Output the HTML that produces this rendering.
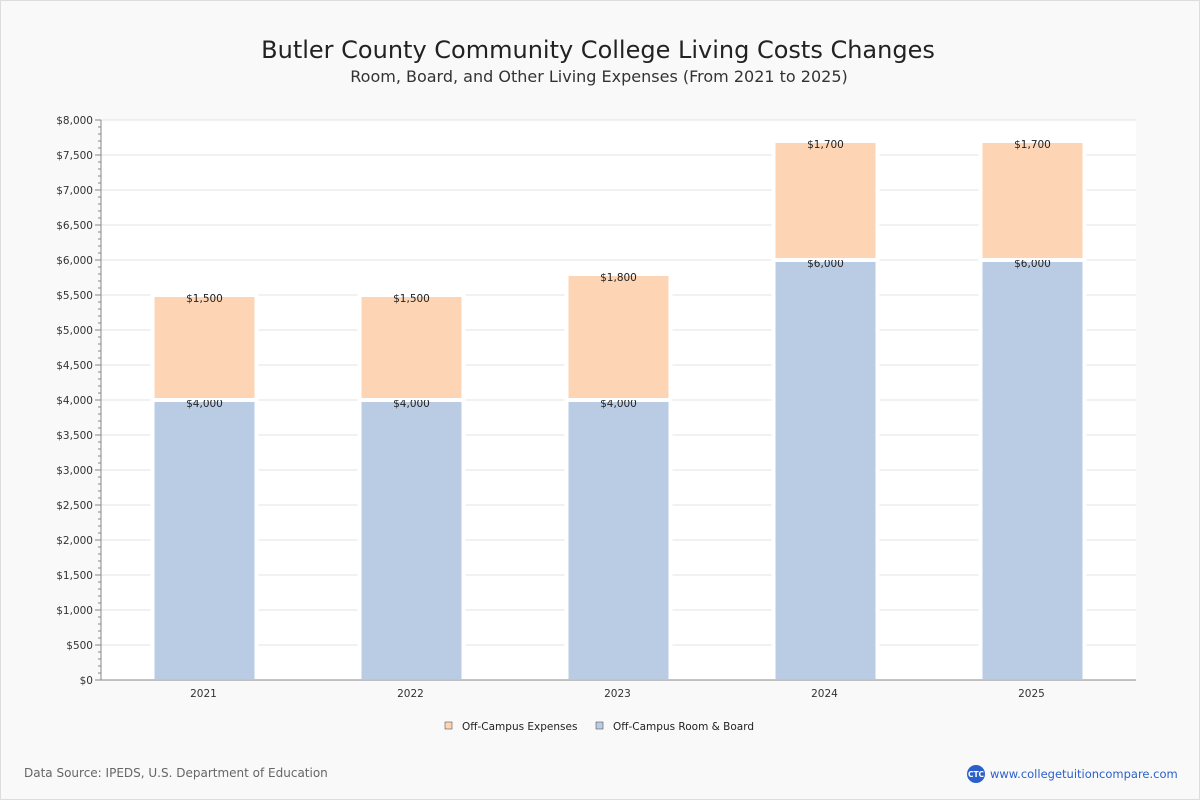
<!DOCTYPE html>
<html><head><meta charset="utf-8">
<style>
body{margin:0;background:#f9f9f9;font-family:"DejaVu Sans","Liberation Sans",sans-serif;}
#wrap{position:relative;width:1200px;height:800px;box-sizing:border-box;border:1px solid #ddd;background:#f9f9f9;overflow:hidden;}
#chart{position:absolute;left:0px;top:-1px;}
</style></head>
<body>
<div id="wrap">
<svg id="chart" width="1200" height="800">
<text x="597" y="58" text-anchor="middle" font-size="24" fill="#222">Butler County Community College Living Costs Changes</text>
<text x="598" y="82" text-anchor="middle" font-size="16" fill="#333">Room, Board, and Other Living Expenses (From 2021 to 2025)</text>
<rect x="100" y="120" width="1035" height="560" fill="#fff"/>
<g id="grid"></g><g id="bars"></g><g id="axes"></g>
<g>
<rect x="444" y="722" width="7" height="7" fill="#fdd5b4" stroke="#555" stroke-width="0.6"/>
<text x="461" y="730" font-size="10.5" fill="#222">Off-Campus Expenses</text>
<rect x="595" y="722" width="7" height="7" fill="#b9cce4" stroke="#555" stroke-width="0.6"/>
<text x="612" y="730" font-size="10.5" fill="#222">Off-Campus Room &amp; Board</text>
</g>
<text x="23" y="777" font-size="12" fill="#666">Data Source: IPEDS, U.S. Department of Education</text>
<circle cx="975" cy="774" r="9" fill="#2a5fcc"/>
<text x="975" y="777" text-anchor="middle" font-size="7.5" fill="#fff" font-weight="bold">CTC</text>
<text x="989" y="778" font-size="11.5" fill="#2a5fcc">www.collegetuitioncompare.com</text>
</svg>
</div>
<script>
const years=["2021","2022","2023","2024","2025"];
const roomBoard=[4000,4000,4000,6000,6000];
const expenses=[1500,1500,1800,1700,1700];
const yTicks=[0,500,1000,1500,2000,2500,3000,3500,4000,4500,5000,5500,6000,6500,7000,7500,8000];
const NS="http://www.w3.org/2000/svg";
const X0=100,X1=1135,Y0=680,Y1=120,MAX=8000;
const y=v=>Y0-(v/MAX)*(Y0-Y1);
const bw=(X1-X0)/years.length;
const xc=i=>X0+bw*(i+0.5);
function mk(t,a,p){const e=document.createElementNS(NS,t);for(const k in a)e.setAttribute(k,a[k]);p.appendChild(e);return e;}
const grid=document.getElementById('grid'),bars=document.getElementById('bars'),axes=document.getElementById('axes');
yTicks.forEach(v=>{
 const l=mk('line',{x1:X0,x2:X1,y1:y(v),y2:y(v),stroke:'#e3e3e3','stroke-width':1},grid);
 
 
 const t=mk('text',{x:92,y:y(v)+4,'text-anchor':'end','font-size':10.5,fill:'#333'},axes);
 t.textContent='$'+v.toLocaleString('en-US');
 
 
});
for(let v=0;v<=MAX;v+=100){
 const big=v%500===0;
 const tk=mk('line',{x1:big?94:97,x2:100,y1:y(v),y2:y(v),stroke:'#888','stroke-width':1},axes);
 
 
}
const ya=mk('line',{x1:100,x2:100,y1:Y1,y2:Y0,stroke:'#888'},axes);


const xa=mk('line',{x1:X0,x2:X1,y1:Y0,y2:Y0,stroke:'#888'},axes);


years.forEach((yr,i)=>{
 const cx=xc(i),w=100;
 const segs=[[0,roomBoard[i],'#b9cce4','bar-room-board-'+yr],[roomBoard[i],roomBoard[i]+expenses[i],'#fdd5b4','bar-expenses-'+yr]];
 segs.forEach(([a,b,c,name],k)=>{
  const top=y(b),bot=y(a);
  const bg=mk('rect',{x:cx-w/2-4,y:top-3,width:w+8,height:bot-top+3,fill:'#fff'},bars);
  
  
  const r=mk('rect',{x:cx-w/2,y:top+2,width:w,height:bot-top-(k===0?3:4),fill:c},bars);
  
  
  const t=mk('text',{x:cx,y:top+7,'text-anchor':'middle','font-size':10.5,fill:'#222'},bars);
  t.textContent='$'+(b-a).toLocaleString('en-US');
  
  
 });
 const xl=mk('text',{x:cx-1,y:697,'text-anchor':'middle','font-size':10.5,fill:'#333'},axes);
 xl.textContent=yr;
 
 
});
</script>
</body></html>
